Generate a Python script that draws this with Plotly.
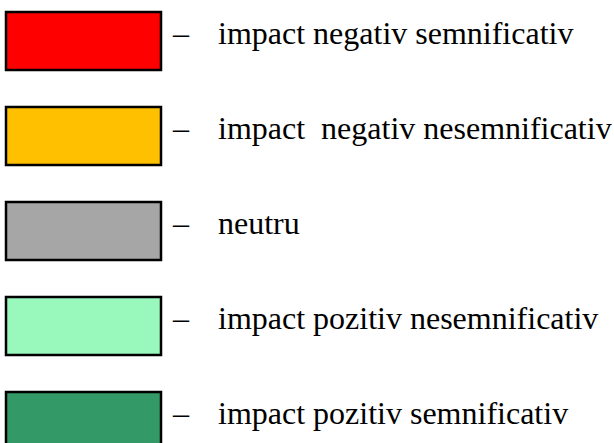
import plotly.graph_objects as go

labels = [
    "impact negativ semnificativ",
    "impact\u00a0 negativ nesemnificativ",
    "neutru",
    "impact pozitiv nesemnificativ",
    "impact pozitiv semnificativ",
]
colors = ["#FF0000", "#FFC000", "#A6A6A6", "#99F9BC", "#339966"]

W, H = 614, 443
top0, step, bh = 12, 95, 58
x0, x1 = 6, 161

fig = go.Figure()
shapes = []
annotations = []
for i, (lab, col) in enumerate(zip(labels, colors)):
    t = top0 + step * i
    shapes.append(dict(type="rect", xref="x", yref="y", x0=x0, x1=x1, y0=t, y1=t + bh,
                       fillcolor=col, line=dict(color="black", width=2.5), layer="above"))
    cy = t + bh / 2 - 8
    annotations.append(dict(x=170, y=cy, xref="x", yref="y", text="\u2013", showarrow=False,
                            xanchor="left", yanchor="middle",
                            font=dict(family="Liberation Serif", size=32, color="black")))
    annotations.append(dict(x=216, y=cy, xref="x", yref="y", text=lab, showarrow=False,
                            xanchor="left", yanchor="middle",
                            font=dict(family="Liberation Serif", size=32, color="black")))

fig.update_layout(
    width=W, height=H, margin=dict(l=0, r=0, t=0, b=0),
    paper_bgcolor="white", plot_bgcolor="white",
    xaxis=dict(range=[0, W], visible=False, fixedrange=True),
    yaxis=dict(range=[H, 0], visible=False, fixedrange=True),
    shapes=shapes, annotations=annotations, showlegend=False,
)
fig.write_html("out.html", config={"displayModeBar": False},
               post_script="document.body.style.margin='0';document.body.style.overflow='hidden';")
